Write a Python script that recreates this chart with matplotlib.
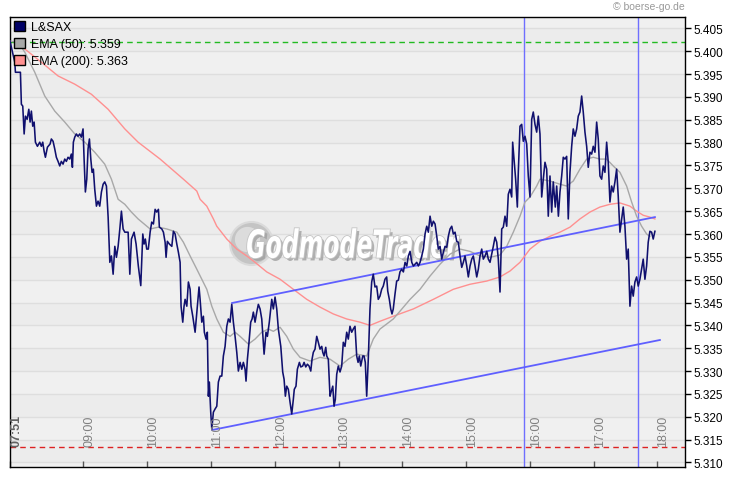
import matplotlib
matplotlib.use("Agg")
import matplotlib.pyplot as plt
import matplotlib.patheffects as pe
from matplotlib.patches import Patch, PathPatch
from matplotlib.textpath import TextPath
from matplotlib.font_manager import FontProperties
from matplotlib import transforms

plt.rcParams['font.family'] = ['Liberation Sans', 'DejaVu Sans']

# minutes after 07:51
price_t = [0.0, 4.5, 5.1, 9.8, 10.7, 12.0, 13.3, 14.5, 16.1, 17.7, 18.9, 20.1, 21.4, 22.7, 23.9, 25.8, 28.0, 29.5, 30.8, 32.1,
           33.3, 35.2, 37.7, 38.9, 40.5, 42.1, 43.6, 45.2, 46.8, 48.3, 49.9, 51.5, 53.0, 54.6, 56.2, 57.7, 58.7, 59.6, 60.9, 62.4,
           64.0, 65.6, 67.1, 68.7, 69.7, 70.9, 72.2, 73.4, 74.7, 76.0, 77.2, 78.4, 79.7, 81.3, 82.8, 84.4, 86.0, 87.6, 89.1, 90.7,
           92.3, 93.9, 95.4, 97.0, 98.6, 100.1, 101.7, 103.3, 104.8, 106.4, 108.0, 111.1, 112.7, 114.2, 116.7, 118.6, 120.7, 123.0, 124.9, 126.1,
           127.3, 128.6, 130.1, 131.8, 133.3, 134.9, 136.5, 138.0, 139.6, 140.5, 142.8, 144.3, 145.9, 146.8, 148.0, 149.9, 152.2, 153.7, 155.3, 156.9,
           158.4, 160.0, 160.9, 162.5, 163.7, 164.7, 166.3, 167.8, 169.4, 170.3, 171.9, 174.1, 175.7, 177.8, 178.8, 180.4, 181.9, 182.8, 184.4, 185.6,
           186.6, 187.5, 188.8, 189.8, 191.3, 192.9, 194.5, 196.0, 197.6, 199.2, 200.7, 202.3, 203.9, 205.4, 207.0, 208.6, 210.1, 211.7, 213.3, 214.8,
           216.4, 218.0, 219.5, 221.1, 222.0, 223.3, 224.8, 226.4, 227.7, 228.9, 230.5, 232.1, 233.6, 235.2, 236.8, 239.0, 240.8, 242.1, 243.9, 246.2,
           247.7, 249.3, 250.9, 252.4, 254.7, 256.5, 257.8, 259.0, 260.3, 261.8, 263.4, 265.0, 266.5, 267.4, 269.0, 270.3, 272.2, 273.5, 275.3, 276.6,
           278.2, 279.7, 281.3, 282.9, 284.1, 285.3, 286.9, 288.5, 290.0, 291.6, 293.2, 294.2, 295.4, 297.0, 297.9, 299.4, 301.0, 302.0, 303.6, 304.8,
           306.0, 307.3, 308.8, 310.4, 312.0, 313.5, 315.1, 316.7, 318.2, 319.8, 321.4, 322.9, 324.5, 326.1, 327.4, 328.6, 329.9, 331.8, 333.0, 334.2,
           335.5, 337.0, 338.6, 340.2, 341.7, 343.3, 344.9, 346.4, 348.0, 349.6, 351.1, 352.7, 354.3, 355.3, 356.8, 358.1, 359.3, 360.5, 362.1, 363.7,
           365.3, 366.8, 368.4, 370.0, 371.6, 373.2, 374.7, 376.3, 377.9, 379.4, 381.0, 382.6, 384.1, 385.7, 387.3, 388.8, 390.4, 392.0, 393.5, 395.1,
           396.7, 398.2, 399.8, 401.4, 402.9, 404.5, 406.1, 407.6, 409.2, 410.8, 412.3, 413.9, 415.5, 417.0, 418.6, 420.2, 421.7, 423.3, 424.9, 426.4,
           428.0, 429.6, 431.1, 432.7, 434.3, 435.8, 437.4, 439.0, 440.5, 442.1, 443.7, 445.2, 446.8, 448.4, 449.9, 451.5, 453.1, 454.6, 456.2, 457.8,
           459.3, 460.9, 462.5, 464.0, 465.6, 467.2, 468.7, 470.3, 471.9, 472.8, 474.1, 475.6, 477.2, 478.1, 479.7, 481.3, 482.8, 484.4, 486.0, 487.5,
           489.1, 490.7, 492.2, 493.8, 495.4, 496.9, 498.5, 500.1, 501.6, 503.2, 504.8, 506.3, 507.9, 509.5, 511.0, 512.9, 514.2, 515.8, 517.3, 518.9,
           520.4, 522.0, 523.6, 525.1, 526.7, 528.3, 529.8, 531.4, 533.0, 534.5, 536.1, 537.7, 539.2, 540.8, 542.4, 543.9, 545.5, 547.1, 548.6, 550.2,
           551.8, 553.3, 554.9, 556.5, 558.0, 559.6, 561.2, 562.7, 564.3, 565.9, 567.4, 569.0, 570.6, 572.1, 573.7, 575.3, 576.8, 578.4, 580.0, 581.5,
           583.1, 584.7, 586.2, 587.8, 589.4, 590.9, 592.5, 594.1, 595.6, 597.2, 598.8, 600.3, 601.9, 603.5, 605.0, 606.6]
price_v = [5.4022, 5.3976, 5.3954, 5.3954, 5.3884, 5.3880, 5.3819, 5.3858, 5.3851, 5.3873, 5.3845, 5.3869, 5.3836, 5.3845, 5.3801, 5.3792, 5.3801, 5.3792, 5.3801, 5.3781,
           5.3768, 5.3790, 5.3797, 5.3808, 5.3803, 5.3786, 5.3768, 5.3759, 5.3749, 5.3759, 5.3753, 5.3764, 5.3759, 5.3768, 5.3764, 5.3775, 5.3746, 5.3801, 5.3812, 5.3819,
           5.3814, 5.3819, 5.3812, 5.3830, 5.3764, 5.3692, 5.3720, 5.3786, 5.3808, 5.3764, 5.3735, 5.3742, 5.3698, 5.3661, 5.3672, 5.3661, 5.3692, 5.3709, 5.3714, 5.3705,
           5.3637, 5.3538, 5.3552, 5.3512, 5.3573, 5.3549, 5.3573, 5.3611, 5.3650, 5.3611, 5.3604, 5.3604, 5.3512, 5.3589, 5.3604, 5.3578, 5.3530, 5.3487, 5.3600, 5.3578,
           5.3589, 5.3567, 5.3567, 5.3604, 5.3626, 5.3622, 5.3654, 5.3648, 5.3654, 5.3615, 5.3611, 5.3604, 5.3582, 5.3549, 5.3584, 5.3578, 5.3573, 5.3606, 5.3600, 5.3578,
           5.3560, 5.3538, 5.3442, 5.3407, 5.3442, 5.3457, 5.3442, 5.3495, 5.3479, 5.3442, 5.3420, 5.3385, 5.3429, 5.3484, 5.3457, 5.3407, 5.3420, 5.3385, 5.3370, 5.3385,
           5.3245, 5.3276, 5.3210, 5.3173, 5.3210, 5.3217, 5.3223, 5.3276, 5.3289, 5.3289, 5.3333, 5.3354, 5.3398, 5.3414, 5.3407, 5.3446, 5.3407, 5.3376, 5.3341, 5.3300,
           5.3319, 5.3304, 5.3319, 5.3304, 5.3278, 5.3326, 5.3363, 5.3407, 5.3414, 5.3429, 5.3407, 5.3429, 5.3446, 5.3436, 5.3414, 5.3337, 5.3385, 5.3376, 5.3407, 5.3457,
           5.3436, 5.3462, 5.3436, 5.3392, 5.3354, 5.3298, 5.3282, 5.3245, 5.3267, 5.3260, 5.3232, 5.3206, 5.3238, 5.3260, 5.3267, 5.3304, 5.3319, 5.3309, 5.3311, 5.3319,
           5.3309, 5.3315, 5.3311, 5.3300, 5.3326, 5.3341, 5.3348, 5.3376, 5.3363, 5.3348, 5.3354, 5.3341, 5.3333, 5.3352, 5.3333, 5.3326, 5.3245, 5.3254, 5.3267, 5.3223,
           5.3238, 5.3293, 5.3311, 5.3298, 5.3311, 5.3363, 5.3354, 5.3385, 5.3370, 5.3398, 5.3385, 5.3392, 5.3398, 5.3333, 5.3319, 5.3333, 5.3311, 5.3333, 5.3333, 5.3319,
           5.3245, 5.3326, 5.3436, 5.3495, 5.3512, 5.3484, 5.3486, 5.3457, 5.3464, 5.3479, 5.3486, 5.3501, 5.3506, 5.3475, 5.3457, 5.3436, 5.3425, 5.3436, 5.3468, 5.3497,
           5.3499, 5.3517, 5.3523, 5.3517, 5.3538, 5.3530, 5.3552, 5.3562, 5.3538, 5.3530, 5.3534, 5.3538, 5.3530, 5.3538, 5.3552, 5.3567, 5.3600, 5.3617, 5.3604, 5.3639,
           5.3617, 5.3628, 5.3622, 5.3595, 5.3567, 5.3573, 5.3545, 5.3560, 5.3573, 5.3571, 5.3595, 5.3611, 5.3617, 5.3600, 5.3604, 5.3584, 5.3582, 5.3552, 5.3527, 5.3538,
           5.3552, 5.3530, 5.3506, 5.3530, 5.3545, 5.3552, 5.3530, 5.3506, 5.3523, 5.3552, 5.3567, 5.3545, 5.3552, 5.3562, 5.3545, 5.3538, 5.3556, 5.3573, 5.3593, 5.3582,
           5.3545, 5.3473, 5.3611, 5.3615, 5.3639, 5.3617, 5.3687, 5.3698, 5.3681, 5.3801, 5.3764, 5.3720, 5.3659, 5.3735, 5.3836, 5.3840, 5.3803, 5.3814, 5.3797, 5.3727,
           5.3681, 5.3851, 5.3867, 5.3840, 5.3823, 5.3858, 5.3819, 5.3681, 5.3720, 5.3757, 5.3742, 5.3639, 5.3727, 5.3648, 5.3714, 5.3659, 5.3705, 5.3639, 5.3692, 5.3727,
           5.3768, 5.3764, 5.3770, 5.3633, 5.3735, 5.3792, 5.3830, 5.3814, 5.3830, 5.3858, 5.3867, 5.3902, 5.3867, 5.3823, 5.3792, 5.3746, 5.3779, 5.3775, 5.3792, 5.3779,
           5.3845, 5.3808, 5.3727, 5.3720, 5.3749, 5.3735, 5.3801, 5.3757, 5.3670, 5.3705, 5.3692, 5.3714, 5.3742, 5.3683, 5.3604, 5.3633, 5.3659, 5.3617, 5.3545, 5.3567,
           5.3442, 5.3486, 5.3464, 5.3495, 5.3506, 5.3486, 5.3501, 5.3523, 5.3545, 5.3501, 5.3530, 5.3582, 5.3606, 5.3604, 5.3589, 5.3606]

ema50_t = [0.0, 7.6, 13.9, 23.3, 32.7, 42.1, 51.5, 60.9, 70.3, 79.7, 89.1, 95.4, 101.7, 108.0, 114.2, 120.5, 131.8, 139.6, 147.5, 156.9,
           163.1, 169.4, 175.7, 180.4, 185.1, 189.8, 194.5, 200.7, 207.0, 211.7, 216.4, 224.2, 230.5, 236.8, 243.0, 247.7, 254.0, 260.3, 266.5, 272.8,
           282.2, 291.6, 301.0, 310.4, 318.2, 326.1, 335.5, 341.7, 348.0, 354.3, 360.5, 366.8, 376.3, 385.7, 395.1, 404.5, 413.9, 423.3, 432.7, 442.1,
           451.5, 460.9, 467.2, 473.4, 479.7, 484.4, 489.1, 495.4, 498.5, 507.9, 517.3, 523.6, 529.8, 536.1, 542.4, 548.6, 554.9, 561.2, 567.4, 573.7,
           580.0, 584.7, 589.4, 594.1, 598.8, 601.9]
ema50_v = [5.4022, 5.4020, 5.3998, 5.3954, 5.3902, 5.3869, 5.3845, 5.3819, 5.3801, 5.3779, 5.3753, 5.3720, 5.3676, 5.3665, 5.3648, 5.3633, 5.3611, 5.3615, 5.3611, 5.3604,
           5.3582, 5.3552, 5.3523, 5.3501, 5.3479, 5.3442, 5.3414, 5.3385, 5.3376, 5.3385, 5.3376, 5.3359, 5.3370, 5.3385, 5.3392, 5.3387, 5.3396, 5.3376, 5.3348, 5.3330,
           5.3322, 5.3330, 5.3326, 5.3311, 5.3326, 5.3337, 5.3333, 5.3370, 5.3392, 5.3403, 5.3414, 5.3431, 5.3457, 5.3479, 5.3508, 5.3534, 5.3556, 5.3567, 5.3562, 5.3552,
           5.3549, 5.3554, 5.3573, 5.3604, 5.3639, 5.3670, 5.3681, 5.3705, 5.3720, 5.3716, 5.3709, 5.3705, 5.3716, 5.3742, 5.3764, 5.3768, 5.3764, 5.3764, 5.3749, 5.3735,
           5.3705, 5.3670, 5.3639, 5.3617, 5.3600, 5.3595]

ema200_t = [10.7, 29.5, 45.2, 60.9, 76.5, 92.3, 108.0, 120.5, 141.2, 163.1, 175.7, 178.8, 185.1, 191.3, 194.5, 203.9, 213.3, 222.7, 230.5, 241.5,
            254.0, 266.5, 279.1, 291.6, 304.1, 316.7, 329.2, 338.6, 348.0, 360.5, 379.4, 398.2, 417.0, 432.7, 448.4, 460.9, 470.3, 479.7, 489.1, 498.5,
            507.9, 517.3, 526.7, 536.1, 545.5, 554.9, 564.3, 573.7, 583.1, 589.4, 595.6, 601.9, 606.6]
ema200_v = [5.4011, 5.3976, 5.3946, 5.3928, 5.3906, 5.3873, 5.3830, 5.3801, 5.3764, 5.3720, 5.3694, 5.3676, 5.3661, 5.3633, 5.3617, 5.3589, 5.3567, 5.3552, 5.3538, 5.3517,
            5.3501, 5.3479, 5.3457, 5.3440, 5.3425, 5.3414, 5.3407, 5.3400, 5.3409, 5.3420, 5.3436, 5.3457, 5.3479, 5.3490, 5.3497, 5.3506, 5.3519, 5.3538, 5.3567, 5.3584,
            5.3595, 5.3604, 5.3615, 5.3633, 5.3648, 5.3659, 5.3665, 5.3668, 5.3661, 5.3650, 5.3641, 5.3637, 5.3633]

upper_t = [208.9, 606.6]
upper_v = [5.3449, 5.3637]
lower_t = [190.1, 611.3]
lower_v = [5.3171, 5.3368]
vlines_t = [483.5, 590.6]
green_level = 5.4021
red_level = 5.3133

hour_ticks = [69, 129, 189, 249, 309, 369, 429, 489, 549, 609]
hour_labels = ['09:00', '10:00', '11:00', '12:00', '13:00', '14:00', '15:00', '16:00', '17:00', '18:00']
y_ticks = [5.310 + 0.005 * i for i in range(20)]

fig = plt.figure(figsize=(7.3, 4.81), dpi=100)
ax = fig.add_axes([10 / 730, 1 - 468 / 481, 675 / 730, 450 / 481])
ax.set_xlim(0, 634.9)
ax.set_ylim(5.3090, 5.4075)
ax.set_facecolor('#f0f0f0')

# alternating bands + grid lines
for i, yt in enumerate(y_ticks):
    if i % 2 == 0:
        ax.axhspan(yt, yt + 0.005, color='#ececec', lw=0, zorder=0)
    ax.axhline(yt, color='#dedede', lw=1, zorder=0.5)

# watermark (sphere + squeezed bold italic text)
ax.scatter([227], [5.3581], s=960, color='#c4c4c4', edgecolor='#dadada', lw=1.5, zorder=1)
ax.scatter([223], [5.3590], s=330, color='#dcdcdc', lw=0, zorder=1.05)
tp = TextPath((0, 0), 'GodmodeTrader', size=1,
              prop=FontProperties(family='DejaVu Sans', weight='bold', style='italic'))
ext = tp.get_extents()
sx = 212 / ext.width
sy = 30 / ext.height
wm_tr = (transforms.Affine2D().translate(-ext.x0, -ext.y0).scale(sx, sy)
         + transforms.ScaledTranslation(223, 5.3547, ax.transData))
ax.add_patch(PathPatch(tp, transform=wm_tr, facecolor='white', edgecolor='none', zorder=1.2,
                       path_effects=[pe.withSimplePatchShadow(offset=(2, -2), shadow_rgbFace='#a0a0a0', alpha=0.8),
                                     pe.Stroke(linewidth=1.2, foreground='#c4c4c4'), pe.Normal()]))

ax.axhline(green_level, color='#22bb22', lw=1, ls=(0, (4, 3)), zorder=2)
ax.axhline(red_level, color='#dd2222', lw=1, ls=(0, (4, 3)), zorder=2)
for vt in vlines_t:
    ax.axvline(vt, color='#6f6fff', lw=1, zorder=2)

ax.plot(ema200_t, ema200_v, color='#ff9090', lw=1, zorder=3)
ax.plot(ema50_t, ema50_v, color='#a8a8a8', lw=1, zorder=3)
ax.plot(upper_t, upper_v, color='#5f5fff', lw=1.3, zorder=4)
ax.plot(lower_t, lower_v, color='#5f5fff', lw=1.3, zorder=4)
ax.plot(price_t, price_v, color='#10106e', lw=1.15, zorder=5)

# y axis on the right
ax.yaxis.tick_right()
ax.set_yticks(y_ticks)
ax.set_yticklabels([f'{v:.3f}' for v in y_ticks])
ax.tick_params(axis='y', direction='out', length=4, width=1, labelsize=8.5, pad=2, colors='black')

# x axis: ticks inside, vertical labels drawn inside the plot
ax.set_xticks([0] + hour_ticks)
ax.set_xticklabels([])
ax.tick_params(axis='x', direction='in', length=4, width=1, color='#555555')
off = transforms.offset_copy(ax.get_xaxis_transform(), fig=fig, x=6, y=0, units='dots')
for ht, hl in zip(hour_ticks, hour_labels):
    ax.text(ht, 0.047, hl, transform=off, rotation=90, ha='center', va='bottom',
            fontsize=9, color='#808080', zorder=6)
ax.text(0, 0.047, '07:51', transform=off, rotation=90, ha='center', va='bottom',
        fontsize=9, fontweight='bold', color='#606060', zorder=6)

for s in ax.spines.values():
    s.set_color('black')
    s.set_linewidth(1)

handles = [Patch(facecolor='#000066', edgecolor='black', label='L&SAX'),
           Patch(facecolor='#a8a8a8', edgecolor='black', label='EMA (50): 5.359'),
           Patch(facecolor='#ff9090', edgecolor='black', label='EMA (200): 5.363')]
leg = ax.legend(handles=handles, loc='upper left', frameon=False, fontsize=9,
                handlelength=0.9, handleheight=0.9, handletextpad=0.5,
                borderaxespad=0.1, borderpad=0.2, labelspacing=0.35)
leg.set_zorder(7)

fig.text(685 / 730, 1 - 7 / 481, '© boerse-go.de', ha='right', va='center', fontsize=7.5, color='#999999')

fig.savefig('out.png', dpi=100)
